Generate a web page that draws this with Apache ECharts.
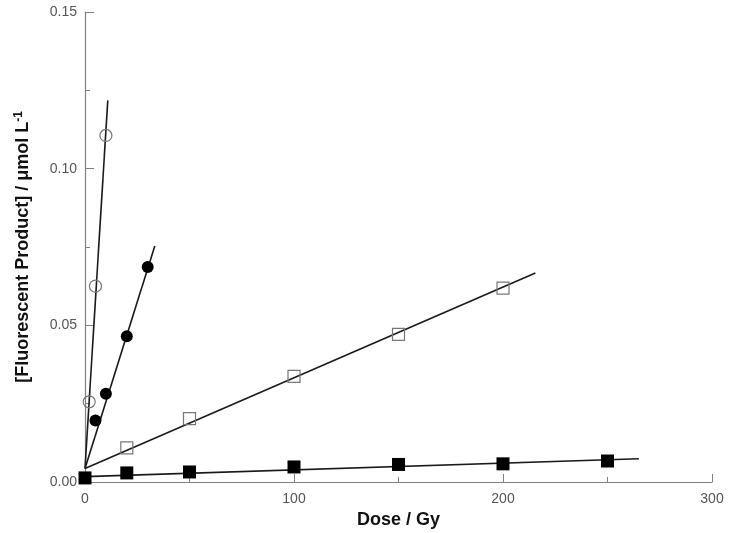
<!DOCTYPE html>
<html><head><meta charset="utf-8">
<script src="https://cdn.jsdelivr.net/npm/echarts@6/dist/echarts.min.js"></script>
<style>html,body{margin:0;padding:0;background:#fff}#c{width:729px;height:533px}</style>
</head><body><div id="c"></div>
<script>
// Data
var openCircleX = [2, 5, 10];
var openCircleY = [0.0256, 0.0625, 0.1106];
var filledCircleX = [5, 10, 20, 30];
var filledCircleY = [0.0196, 0.0282, 0.0465, 0.0686];
var openSquareX = [20, 50, 100, 150, 200];
var openSquareY = [0.0109, 0.0202, 0.0337, 0.0471, 0.0619];
var filledSquareX = [0, 20, 50, 100, 150, 200, 250];
var filledSquareY = [0.0013, 0.0029, 0.0032, 0.0048, 0.0056, 0.0058, 0.0067];
// Fitted lines (endpoints)
var fitOpenCircle = [[0, 0.0043], [10.9, 0.1218]];
var fitFilledCircle = [[0, 0.0043], [33.4, 0.0753]];
var fitOpenSquare = [[0, 0.0043], [215.5, 0.0667]];
var fitFilledSquare = [[0, 0.0017], [265, 0.0074]];
var xTicks = [0, 100, 200, 300];
var yTicks = [0.00, 0.05, 0.10, 0.15];

function pts(xs, ys){ return xs.map(function(x,i){return [x, ys[i]];}); }

var chart = echarts.init(document.getElementById('c'), null, {renderer:'canvas'});
var axisGray = '#808080';
var labelColor = '#555';
var ff = 'Liberation Sans, Arial';
function lineSeries(d){
  return {type:'line', data:d, symbol:'none', lineStyle:{color:'#1a1a1a', width:1.6}, z:2, animation:false};
}
chart.setOption({
  animation:false,
  backgroundColor:'#fff',
  grid:{left:85, right:17, top:12, bottom:51, outerBoundsMode:'none', containLabel:false},
  xAxis:{
    type:'value', min:xTicks[0], max:xTicks[xTicks.length-1], interval:100,
    axisLine:{show:true, lineStyle:{color:axisGray, width:1.2}},
    axisTick:{show:true, inside:true, length:8, lineStyle:{color:axisGray}},
    minorTick:{show:true, splitNumber:2, length:5, lineStyle:{color:axisGray}},
    splitLine:{show:false},
    axisLabel:{color:labelColor, fontSize:14, fontFamily:ff, margin:10},
    name:'Dose / Gy', nameLocation:'middle', nameGap:27,
    nameTextStyle:{color:'#111', fontSize:18, fontWeight:'bold', fontFamily:ff}
  },
  yAxis:{
    type:'value', min:yTicks[0], max:yTicks[yTicks.length-1], interval:0.05,
    axisLine:{show:true, lineStyle:{color:axisGray, width:1.2}},
    axisTick:{show:true, inside:true, length:9, lineStyle:{color:axisGray}},
    minorTick:{show:true, splitNumber:2, length:5, lineStyle:{color:axisGray}},
    splitLine:{show:false},
    axisLabel:{color:labelColor, fontSize:14, fontFamily:ff, margin:8,
      formatter:function(v){return v.toFixed(2);}},
    name:'{b|[Fluorescent Product] / \u03bcmol L}{s|-1}', nameLocation:'middle', nameGap:51, nameRotate:90,
    nameTextStyle:{rich:{
      b:{color:'#111', fontSize:18, fontWeight:'bold', fontFamily:ff},
      s:{color:'#111', fontSize:12, fontWeight:'bold', fontFamily:ff, verticalAlign:'top', padding:[0,0,9,0]}
    }}
  },
  series:[
    lineSeries(fitOpenCircle),
    lineSeries(fitFilledCircle),
    lineSeries(fitOpenSquare),
    lineSeries(fitFilledSquare),
    {type:'scatter', data:pts(openCircleX, openCircleY), symbol:'circle', symbolSize:12,
     itemStyle:{color:'rgba(255,255,255,0)', borderColor:'#777', borderWidth:1.2, opacity:1}, z:3},
    {type:'scatter', data:pts(filledCircleX, filledCircleY), symbol:'circle', symbolSize:12,
     itemStyle:{color:'#000', opacity:1}, z:3},
    {type:'scatter', data:pts(openSquareX, openSquareY), symbol:'rect', symbolSize:12,
     itemStyle:{color:'rgba(255,255,255,0)', borderColor:'#777', borderWidth:1.2, opacity:1}, z:3},
    {type:'scatter', data:pts(filledSquareX, filledSquareY), symbol:'rect', symbolSize:13,
     itemStyle:{color:'#000', opacity:1}, z:3}
  ]
});
</script></body></html>
